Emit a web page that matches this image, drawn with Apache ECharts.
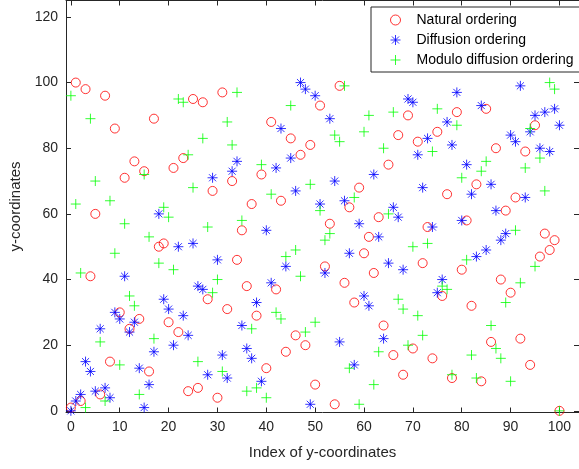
<!DOCTYPE html>
<html>
<head>
<meta charset="utf-8">
<script src="https://cdn.jsdelivr.net/npm/echarts@6/dist/echarts.min.js"></script>
<style>
html,body{margin:0;padding:0;background:#fff;}
#chart{width:579px;height:469px;}
</style>
</head>
<body>
<div id="chart"></div>
<script>
// y-coordinates per index (0..100)
const naturalOrdering = [1,100,3,98,41,60,5,96,15,86, 30,71,25,76,28,73,12,89,50,51, 27,74,24,77,6,95,7,94,34,67, 4,97,31,70,46,55,38,63,29,72, 13,88,37,64,18,83,23,78,20,81, 8,93,44,57,2,99,39,62,33,68, 48,53,42,59,26,75,17,84,11,90, 19,82,45,56,16,85,35,66,10,91, 43,58,32,69,9,92,21,80,40,61, 36,65,22,79,14,87,47,54,49,52, 0];
const diffusionOrdering = [0,3,5,15,12,6,25,7,4,30, 28,41,24,27,13,1,8,18,60,34, 31,20,50,29,23,51,38,37,11,71, 46,17,10,73,76,26,19,16,33,9, 55,39,74,86,44,77,67,100,98,2, 96,63,42,89,70,21,64,48,14,57, 35,32,72,53,22,45,62,59,43,95, 94,78,68,83,56,36,40,88,81,97, 58,75,66,47,93,49,69,61,52,54, 84,82,99,65,85,90,80,91,79,92, 87];
const moduloDiffusionOrdering = [96,63,42,1,89,70,21,3,64,48, 14,57,35,32,5,72,53,22,45,62, 59,43,95,94,78,68,15,83,56,36, 40,12,88,81,97,58,6,25,7,75, 4,66,30,28,47,93,49,41,24,69, 27,61,52,54,84,82,99,13,65,2, 85,90,8,18,80,60,91,34,31,20, 50,29,23,51,79,92,38,37,11,87, 71,46,17,10,73,76,26,19,16,33, 9,55,39,74,86,44,77,67,100,98, 0];
const seriesNames = ['Natural ordering','Diffusion ordering','Modulo diffusion ordering'];
const xTicks = [0,10,20,30,40,50,60,70,80,90,100];
const yTicks = [0,20,40,60,80,100,120];

const FONT = 'Liberation Sans, Arial, Helvetica, sans-serif';
const AX = '#262626';
const plusPath = 'path://M-1,0L1,0M0,-1L0,1';
const starPath = 'path://M-1,0L1,0M0,-1L0,1M-0.7071,-0.7071L0.7071,0.7071M-0.7071,0.7071L0.7071,-0.7071';
const styles = [
  {symbol:'circle', size:9, color:'#ff0000'},
  {symbol:starPath, size:10, color:'#0000ff'},
  {symbol:plusPath, size:10, color:'#00ff00'}
];
const dataSets = [naturalOrdering, diffusionOrdering, moduloDiffusionOrdering];

const chart = echarts.init(document.getElementById('chart'), null, {renderer:'canvas'});
const baseX = {
  type:'value', min:-1, max:104, interval:10,
  axisLine:{show:true, onZero:false, lineStyle:{color:AX, width:1}},
  splitLine:{show:false}
};
const baseY = {
  type:'value', min:-0.5, max:125, interval:20,
  axisLine:{show:true, onZero:false, lineStyle:{color:AX, width:1}},
  splitLine:{show:false}
};
const option = {
  animation:false,
  backgroundColor:'#ffffff',
  grid:{left:66, top:0.5, width:517, height:412, containLabel:false},
  xAxis:[
    Object.assign({}, baseX, {
      position:'bottom',
      name:'Index of y-coordinates', nameLocation:'middle', nameGap:33,
      nameTextStyle:{fontFamily:FONT, fontSize:15, color:AX},
      axisTick:{show:true, inside:true, length:5, lineStyle:{color:AX}, customValues:xTicks},
      axisLabel:{show:true, margin:8, fontFamily:FONT, fontSize:14, color:AX, customValues:xTicks}
    }),
    Object.assign({}, baseX, {
      position:'top',
      axisTick:{show:true, inside:true, length:5, lineStyle:{color:AX}, customValues:xTicks},
      axisLabel:{show:false}
    })
  ],
  yAxis:[
    Object.assign({}, baseY, {
      position:'left',
      name:'y-coordinates', nameLocation:'middle', nameGap:38,
      nameTextStyle:{fontFamily:FONT, fontSize:15, color:AX},
      axisTick:{show:true, inside:true, length:5, lineStyle:{color:AX}, customValues:yTicks},
      axisLabel:{show:true, margin:8, fontFamily:FONT, fontSize:14, color:AX, customValues:yTicks}
    }),
    Object.assign({}, baseY, {
      position:'right',
      axisTick:{show:true, inside:true, length:5, lineStyle:{color:AX}, customValues:yTicks},
      axisLabel:{show:false}
    })
  ],
  legend:{
    orient:'vertical', left:371, top:7,
    padding:[6,10,5,19], itemGap:6,
    itemWidth:32, itemHeight:10, symbolKeepAspect:true,
    backgroundColor:'#ffffff', borderColor:AX, borderWidth:1, borderRadius:0,
    textStyle:{fontFamily:FONT, fontSize:14, color:'#000000'},
    data: seriesNames.map((n,i)=>({
      name:n, icon:styles[i].symbol,
      itemStyle:{color:'rgba(0,0,0,0)', borderColor:styles[i].color, borderWidth:1}
    }))
  },
  series: dataSets.map((arr,i)=>({
    name:seriesNames[i], type:'scatter',
    xAxisIndex:0, yAxisIndex:0,
    symbol:styles[i].symbol, symbolSize:styles[i].size,
    itemStyle:{color:'rgba(0,0,0,0)', borderColor:styles[i].color, borderWidth:1},
    emphasis:{disabled:true},
    data: arr.map((v,k)=>[k,v])
  }))
};
chart.setOption(option);
</script>
</body>
</html>
